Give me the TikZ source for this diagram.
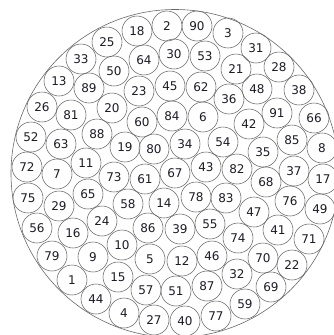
\documentclass[tikz,border=0pt]{standalone}
\usepackage{fontspec}
\setmainfont{DejaVu Sans}
\definecolor{ringgray}{RGB}{105,105,105}
\definecolor{numcol}{RGB}{28,28,38}
\tikzset{
  ball/.style={circle, draw=ringgray, line width=0.55pt, minimum size=30pt, inner sep=0pt,
    text=numcol, font=\fontsize{12}{12}\selectfont},
  rim/.style={circle, draw=ringgray, line width=0.6pt, minimum size=328pt, inner sep=0pt}
}
\begin{document}
\begin{tikzpicture}[x=1pt,y=-1pt]
\useasboundingbox (0,0) rectangle (334,335);
\fill[white] (0,0) rectangle (334,335);
\node[rim] (outer) at (175,173.5) {};
% row 1
\node[ball] (c18) at (137,31) {18};
\node[ball] (c2) at (167,26) {2};
\node[ball] (c90) at (197,26) {90};
\node[ball] (c3) at (228,33) {3};
% row 2
\node[ball] (c25) at (107,42) {25};
\node[ball] (c64) at (144,60) {64};
\node[ball] (c30) at (174,54) {30};
\node[ball] (c53) at (205,56) {53};
\node[ball] (c31) at (256,48) {31};
% row 3
\node[ball] (c33) at (81,59) {33};
\node[ball] (c50) at (114,71) {50};
\node[ball] (c21) at (236,69) {21};
\node[ball] (c28) at (279,67) {28};
% row 4
\node[ball] (c13) at (59,81) {13};
\node[ball] (c89) at (89,88) {89};
\node[ball] (c23) at (139,91) {23};
\node[ball] (c45) at (170,86) {45};
\node[ball] (c62) at (201,87) {62};
\node[ball] (c36) at (229,99) {36};
\node[ball] (c48) at (257,89) {48};
\node[ball] (c38) at (299,90) {38};
% row 5
\node[ball] (c26) at (42,107) {26};
\node[ball] (c81) at (71,115) {81};
\node[ball] (c20) at (112,108) {20};
\node[ball] (c60) at (142,122) {60};
\node[ball] (c84) at (172,116) {84};
\node[ball] (c6) at (203,117) {6};
\node[ball] (c42) at (249,124) {42};
\node[ball] (c91) at (277,113) {91};
\node[ball] (c66) at (314,118) {66};
% row 6
\node[ball] (c52) at (31,137) {52};
\node[ball] (c63) at (61,144) {63};
\node[ball] (c88) at (97,134) {88};
\node[ball] (c19) at (125,147) {19};
\node[ball] (c80) at (154,149) {80};
\node[ball] (c34) at (185,144) {34};
\node[ball] (c54) at (223,142) {54};
\node[ball] (c35) at (263,152) {35};
\node[ball] (c85) at (292,140) {85};
\node[ball] (c8) at (322,148) {8};
% row 7
\node[ball] (c72) at (27,167) {72};
\node[ball] (c7) at (57,174) {7};
\node[ball] (c11) at (86,163) {11};
\node[ball] (c73) at (114,177) {73};
\node[ball] (c61) at (145,179) {61};
\node[ball] (c67) at (175,173) {67};
\node[ball] (c43) at (206,167) {43};
\node[ball] (c82) at (237,169) {82};
\node[ball] (c68) at (266,182) {68};
\node[ball] (c37) at (294,171) {37};
\node[ball] (c17) at (323,179) {17};
% row 8
\node[ball] (c75) at (28,198) {75};
\node[ball] (c29) at (59,206) {29};
\node[ball] (c65) at (88,194) {65};
\node[ball] (c58) at (128,204) {58};
\node[ball] (c14) at (164,203) {14};
\node[ball] (c78) at (196,197) {78};
\node[ball] (c83) at (226,198) {83};
\node[ball] (c47) at (254,212) {47};
\node[ball] (c76) at (290,201) {76};
\node[ball] (c49) at (320,209) {49};
% row 9
\node[ball] (c56) at (37,228) {56};
\node[ball] (c16) at (73,233) {16};
\node[ball] (c24) at (102,221) {24};
\node[ball] (c86) at (148,228) {86};
\node[ball] (c39) at (180,229) {39};
\node[ball] (c55) at (210,224) {55};
\node[ball] (c74) at (238,238) {74};
\node[ball] (c41) at (278,230) {41};
\node[ball] (c71) at (309,239) {71};
% row 10
\node[ball] (c79) at (52,256) {79};
\node[ball] (c9) at (93,257) {9};
\node[ball] (c10) at (122,245) {10};
\node[ball] (c5) at (150,259) {5};
\node[ball] (c12) at (182,261) {12};
\node[ball] (c46) at (212,256) {46};
\node[ball] (c70) at (263,258) {70};
\node[ball] (c22) at (292,265) {22};
% row 11
\node[ball] (c1) at (72,280) {1};
\node[ball] (c15) at (118,277) {15};
\node[ball] (c57) at (146,290) {57};
\node[ball] (c51) at (176,291) {51};
\node[ball] (c87) at (207,286) {87};
\node[ball] (c32) at (237,274) {32};
\node[ball] (c69) at (271,287) {69};
% row 12
\node[ball] (c44) at (96,299) {44};
\node[ball] (c4) at (124,313) {4};
\node[ball] (c27) at (154,320) {27};
\node[ball] (c40) at (185,321) {40};
\node[ball] (c77) at (216,316) {77};
\node[ball] (c59) at (245,304) {59};
\end{tikzpicture}
\end{document}
